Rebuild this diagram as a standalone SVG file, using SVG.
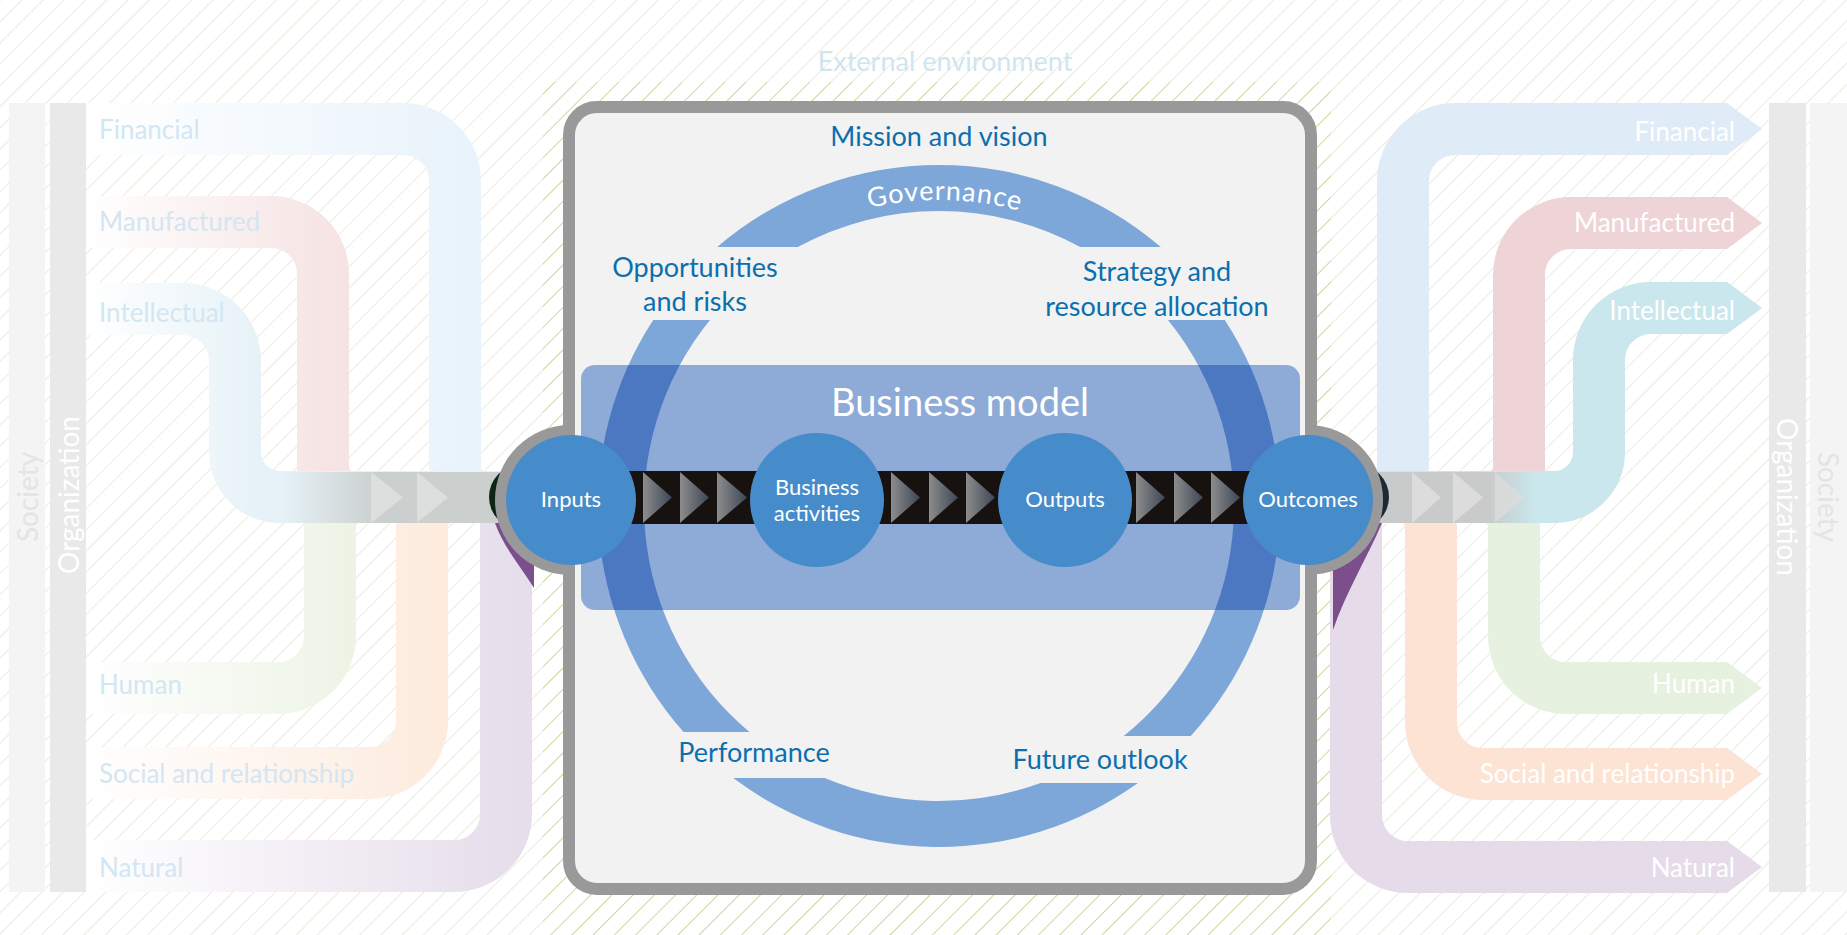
<svg xmlns="http://www.w3.org/2000/svg" xmlns:xlink="http://www.w3.org/1999/xlink" width="1847" height="935" viewBox="0 0 1847 935">
<style>
text{font-family:Lato,"Liberation Sans",sans-serif}
.lbl{fill:#0b6fae;font-size:27px;text-anchor:middle}
.capl{fill:#d3e6f3;font-size:26px}
.capr{fill:#ffffff;font-size:26px;text-anchor:end}
.band{fill:none;stroke-width:52;stroke-linecap:butt}
.node{fill:#468cca}
.nodet{fill:#ffffff;font-size:22px;text-anchor:middle}
.chev{fill:url(#chevG)}
.side{font-size:28px;text-anchor:middle;dominant-baseline:central}
</style>
<defs>
<pattern id="hatchPale" patternUnits="userSpaceOnUse" width="15" height="15" patternTransform="rotate(45)">
<line x1="0" y1="0" x2="0" y2="15" stroke="#e5e5d4" stroke-width="1.5"/>
</pattern>
<pattern id="hatchGreen" patternUnits="userSpaceOnUse" width="15" height="15" patternTransform="rotate(45)">
<line x1="0" y1="0" x2="0" y2="15" stroke="#bcd083" stroke-width="1.6"/>
</pattern>
<linearGradient id="chevG" x1="0" y1="0" x2="1" y2="0">
<stop offset="0" stop-color="#8c8c8c"/><stop offset="1" stop-color="#3d4757"/>
</linearGradient>
<linearGradient id="gFin" gradientUnits="userSpaceOnUse" x1="86" y1="0" x2="470" y2="0"><stop offset="0" stop-color="#ffffff"/><stop offset="1" stop-color="#e9f3fb"/></linearGradient>
<linearGradient id="gMan" gradientUnits="userSpaceOnUse" x1="86" y1="0" x2="340" y2="0"><stop offset="0" stop-color="#ffffff"/><stop offset="1" stop-color="#f6e3e3"/></linearGradient>
<linearGradient id="gInt" gradientUnits="userSpaceOnUse" x1="86" y1="0" x2="260" y2="0"><stop offset="0" stop-color="#ffffff"/><stop offset="1" stop-color="#e6f2f7"/></linearGradient>
<linearGradient id="gHum" gradientUnits="userSpaceOnUse" x1="86" y1="0" x2="350" y2="0"><stop offset="0" stop-color="#ffffff"/><stop offset="1" stop-color="#edf4e6"/></linearGradient>
<linearGradient id="gSoc" gradientUnits="userSpaceOnUse" x1="86" y1="0" x2="440" y2="0"><stop offset="0" stop-color="#ffffff"/><stop offset="1" stop-color="#fdebde"/></linearGradient>
<linearGradient id="gNat" gradientUnits="userSpaceOnUse" x1="86" y1="0" x2="520" y2="0"><stop offset="0" stop-color="#ffffff"/><stop offset="1" stop-color="#e6deeb"/></linearGradient>
<linearGradient id="gGrayL" gradientUnits="userSpaceOnUse" x1="280" y1="0" x2="380" y2="0"><stop offset="0" stop-color="#c6c9c6" stop-opacity="0"/><stop offset="1" stop-color="#c6c9c6" stop-opacity="0.85"/></linearGradient>
<linearGradient id="gGrayR" gradientUnits="userSpaceOnUse" x1="1490" y1="0" x2="1535" y2="0"><stop offset="0" stop-color="#c8c8c8" stop-opacity="0.92"/><stop offset="1" stop-color="#c8c8c8" stop-opacity="0"/></linearGradient>
<clipPath id="bmclip"><rect x="581" y="365" width="719" height="245" rx="14"/></clipPath>
<g id="ringShapes">
<path d="M717.2,247 A341,341 0 0 1 1160.8,247 L1080.2,247 A295,295 0 0 0 797.8,247 Z"/>
<path d="M653.2,320 L710,320 A295,295 0 0 0 749.4,732 L683.6,732 A341,341 0 0 1 653.2,320 Z"/>
<path d="M1168,320 L1224.8,320 A341,341 0 0 1 1190.8,736 L1123.7,736 A295,295 0 0 0 1168,320 Z"/>
<path d="M733.3,778 L824.8,778 A295,295 0 0 0 1040.5,783 L1137.9,783 A341,341 0 0 1 733.3,778 Z"/>
</g>
<path id="govPath" d="M633,506 A306,306 0 0 1 1245,506"/>
</defs>

<g id="background">
<rect x="0" y="0" width="1847" height="935" fill="#ffffff"/>
<rect x="0" y="0" width="1847" height="935" fill="url(#hatchPale)"/>
<rect x="543" y="82" width="788" height="853" fill="#ffffff"/>
<rect x="543" y="82" width="788" height="853" fill="url(#hatchGreen)"/>
<text x="945" y="71" fill="#cfe6ee" font-size="27" text-anchor="middle">External environment</text>
</g>

<g id="left-bars">
<rect x="9" y="103" width="36" height="789" fill="#f4f4f4"/>
<rect x="50" y="103" width="36" height="789" fill="#e9e9e9"/>
<text class="side" fill="#e4e4e4" transform="translate(27,497) rotate(-90)">Society</text>
<text class="side" fill="#ffffff" transform="translate(68,495) rotate(-90)">Organization</text>
</g>
<g id="right-bars">
<rect x="1769" y="103" width="37" height="789" fill="#e9e9e9"/>
<rect x="1810" y="103" width="37" height="789" fill="#f4f4f4"/>
<text class="side" fill="#ffffff" transform="translate(1788,497) rotate(90)">Organization</text>
<text class="side" fill="#e4e4e4" transform="translate(1829,497) rotate(90)">Society</text>
</g>

<g id="input-capitals">
<path class="band" stroke="url(#gNat)" d="M86,866 H454 A52,52 0 0 0 506,814 V527 A30,30 0 0 1 536,497 H540"/>
<path class="band" stroke="url(#gSoc)" d="M86,773 H370 A52,52 0 0 0 422,721 V527 A30,30 0 0 1 452,497 H520"/>
<path class="band" stroke="url(#gHum)" d="M86,688 H278 A52,52 0 0 0 330,636 V527 A30,30 0 0 1 360,497 H520"/>
<path class="band" stroke="url(#gFin)" d="M86,129 H403 A52,52 0 0 1 455,181 V467 A30,30 0 0 0 485,497 H520"/>
<path class="band" stroke="url(#gMan)" d="M86,222 H271 A52,52 0 0 1 323,274 V467 A30,30 0 0 0 353,497 H520"/>
<path class="band" stroke="url(#gInt)" d="M86,309 H183 A52,52 0 0 1 235,361 V452 A45,45 0 0 0 280,497 H520"/>
<rect x="280" y="472" width="220" height="51" fill="url(#gGrayL)"/>
<polygon points="371,472 403,497.5 371,523" fill="#e4e4e4" opacity="0.7"/>
<polygon points="417,472 448,497.5 417,523" fill="#e4e4e4" opacity="0.7"/>
<text class="capl" x="99" y="139">Financial</text>
<text class="capl" x="99" y="231">Manufactured</text>
<text class="capl" x="99" y="322">Intellectual</text>
<text class="capl" x="99" y="694">Human</text>
<text class="capl" x="99" y="783">Social and relationship</text>
<text class="capl" x="99" y="877">Natural</text>
<path d="M495,523 H534 V588 C520,565 504,548 495,523 Z" fill="#7d4e8c"/>
<circle cx="521.5" cy="497" r="32.5" fill="#0d2417"/>
</g>

<g id="output-capitals">
<path class="band" stroke="#e5dbe9" d="M1727,867 H1408 A52,52 0 0 1 1356,815 V500"/>
<path class="band" stroke="#fce3d4" d="M1727,774 H1483 A52,52 0 0 1 1431,722 V527 A30,30 0 0 0 1401,497 H1360"/>
<path class="band" stroke="#e7f1e0" d="M1727,688 H1566 A52,52 0 0 1 1514,636 V527 A30,30 0 0 0 1484,497 H1360"/>
<path class="band" stroke="#dfebf7" d="M1727,129 H1455 A52,52 0 0 0 1403,181 V467 A30,30 0 0 1 1373,497 H1360"/>
<path class="band" stroke="#eed4d7" d="M1727,223 H1571 A52,52 0 0 0 1519,275 V467 A30,30 0 0 1 1489,497 H1360"/>
<path class="band" stroke="#c9e7ec" d="M1727,308 H1651 A52,52 0 0 0 1599,360 V452 A45,45 0 0 1 1554,497 H1360"/>
<polygon points="1727,103 1762,129 1727,155" fill="#dfebf7"/>
<polygon points="1727,197 1762,223 1727,249" fill="#eed4d7"/>
<polygon points="1727,282 1762,308 1727,334" fill="#c9e7ec"/>
<polygon points="1727,662 1762,688 1727,714" fill="#e7f1e0"/>
<polygon points="1727,748 1762,774 1727,800" fill="#fce3d4"/>
<polygon points="1727,841 1762,867 1727,893" fill="#e5dbe9"/>
<rect x="1376" y="472" width="160" height="51" fill="url(#gGrayR)"/>
<polygon points="1412,472 1441,497.5 1412,523" fill="#dcdcdc"/>
<polygon points="1453,472 1483,497.5 1453,523" fill="#dcdcdc"/>
<polygon points="1495,472 1524,497.5 1495,523" fill="#dcdcdc" opacity="0.8"/>
<text class="capr" x="1735" y="141">Financial</text>
<text class="capr" x="1735" y="232">Manufactured</text>
<text class="capr" x="1735" y="320">Intellectual</text>
<text class="capr" x="1735" y="693">Human</text>
<text class="capr" x="1735" y="783">Social and relationship</text>
<text class="capr" x="1735" y="877">Natural</text>
<path d="M1333,523 H1382 C1366,560 1346,592 1333,630 Z" fill="#7d4e8c"/>
<circle cx="1356.5" cy="497" r="32.5" fill="#1b2a33"/>
</g>

<g id="organization-box">
<rect x="569" y="107" width="742" height="782" rx="28" fill="#f2f2f2" stroke="#999999" stroke-width="12"/>
<path d="M570,425 A75,75 0 0 0 570,575 Z" fill="#999999"/>
<path d="M1308,425 A75,75 0 0 1 1308,575 Z" fill="#999999"/>
</g>

<g id="business-model">
<rect x="581" y="365" width="719" height="245" rx="14" fill="#8eaad6"/>
</g>

<g id="value-ring">
<use xlink:href="#ringShapes" fill="#7ea7d9"/>
<g clip-path="url(#bmclip)"><use xlink:href="#ringShapes" fill="#4b78c1"/></g>
<text fill="#ffffff" font-size="27" letter-spacing="1"><textPath xlink:href="#govPath" startOffset="50.6%" text-anchor="middle">Governance</textPath></text>
</g>

<g id="connectors">
<rect x="600" y="471" width="680" height="53" fill="#17120f"/>
<polygon class="chev" points="643,472 672,497.5 643,523"/>
<polygon class="chev" points="680,472 709,497.5 680,523"/>
<polygon class="chev" points="717,472 747,497.5 717,523"/>
<polygon class="chev" points="891,472 920,497.5 891,523"/>
<polygon class="chev" points="929,472 958,497.5 929,523"/>
<polygon class="chev" points="966,472 995,497.5 966,523"/>
<polygon class="chev" points="1136,472 1165,497.5 1136,523"/>
<polygon class="chev" points="1174,472 1203,497.5 1174,523"/>
<polygon class="chev" points="1211,472 1240,497.5 1211,523"/>
</g>

<g id="node-inputs">
<circle class="node" cx="571" cy="500" r="65"/>
<text class="nodet" x="571" y="507">Inputs</text>
</g>
<g id="node-business-activities">
<circle class="node" cx="817" cy="500" r="67"/>
<text class="nodet" x="817" y="495">Business</text>
<text class="nodet" x="817" y="521">activities</text>
</g>
<g id="node-outputs">
<circle class="node" cx="1065" cy="500" r="67"/>
<text class="nodet" x="1065" y="507">Outputs</text>
</g>
<g id="node-outcomes">
<circle class="node" cx="1308" cy="500" r="65"/>
<text class="nodet" x="1308" y="507">Outcomes</text>
</g>

<g id="labels">
<text x="960" y="416" fill="#ffffff" font-size="38" text-anchor="middle">Business model</text>
<text class="lbl" x="939" y="146">Mission and vision</text>
<text class="lbl" x="695" y="277">Opportunities</text>
<text class="lbl" x="695" y="311">and risks</text>
<text class="lbl" x="1157" y="281">Strategy and</text>
<text class="lbl" x="1157" y="316">resource allocation</text>
<text class="lbl" x="754" y="762">Performance</text>
<text class="lbl" x="1100" y="769">Future outlook</text>
</g>
</svg>
